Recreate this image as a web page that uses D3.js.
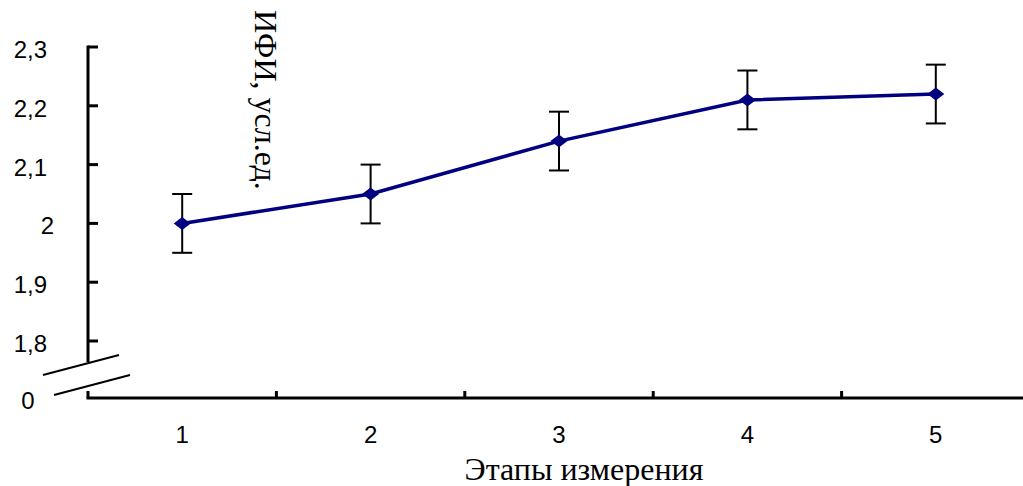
<!DOCTYPE html>
<html>
<head>
<meta charset="utf-8">
<script src="https://cdn.jsdelivr.net/npm/d3@7"></script>
<style>
  body { margin: 0; background: #fff; }
  svg { display: block; }
  .num { font-family: "Liberation Sans", Arial, sans-serif; font-size: 24px; fill: #000; }
  .ttl { font-family: "Liberation Serif", "Times New Roman", serif; font-size: 32px; fill: #000; }
</style>
</head>
<body>
<svg width="1023" height="486"></svg>
<script>
var stages = [1, 2, 3, 4, 5];
var values = [2.0, 2.05, 2.14, 2.21, 2.22];
var errors = [0.05, 0.05, 0.05, 0.05, 0.05];
var yTicks = [1.8, 1.9, 2.0, 2.1, 2.2, 2.3];
var yTickLabels = ['1,8', '1,9', '2', '2,1', '2,2', '2,3'];
var xTitle = 'Этапы измерения';
var yTitle = 'ИФИ, усл.ед.';

var svg = d3.select('svg');
var axisY = 88;      // x position of y axis
var baseY = 398;     // y position of x axis (the "0" line)

var x = d3.scaleLinear().domain([0.5, 5.5]).range([axisY, 1030]);
var y = d3.scaleLinear().domain([1.8, 2.3]).range([341, 47]);

var points = stages.map(function(s, i){
  return { s: s, v: values[i], e: errors[i] };
});

// y axis (upper broken part)
svg.append('line')
  .attr('x1', axisY).attr('x2', axisY)
  .attr('y1', y(2.3) - 1.5).attr('y2', 362)
  .attr('stroke', '#000').attr('stroke-width', 3);

svg.selectAll('.ytick')
  .data(yTicks)
  .enter().append('line')
  .attr('x1', axisY).attr('x2', axisY + 10)
  .attr('y1', function(d){ return y(d); })
  .attr('y2', function(d){ return y(d); })
  .attr('stroke', '#000').attr('stroke-width', 3);

svg.selectAll('.ylab')
  .data(yTicks)
  .enter().append('text')
  .attr('class', 'num')
  .attr('text-anchor', 'end')
  .attr('x', function(d, i){ return yTickLabels[i].indexOf(',') < 0 ? 54 : 47; })
  .attr('y', function(d){ return y(d) + 11; })
  .text(function(d, i){ return yTickLabels[i]; });

// "0" label for the x-axis level
svg.append('text').attr('class', 'num')
  .attr('text-anchor', 'middle')
  .attr('x', 28).attr('y', baseY + 11)
  .text('0');

// axis break marks
svg.append('line').attr('x1', 43).attr('y1', 375).attr('x2', 119).attr('y2', 355)
  .attr('stroke', '#000').attr('stroke-width', 2);
svg.append('line').attr('x1', 54).attr('y1', 395).attr('x2', 130).attr('y2', 375)
  .attr('stroke', '#000').attr('stroke-width', 2);

// x axis
svg.append('line')
  .attr('x1', axisY - 1.5).attr('x2', 1023)
  .attr('y1', baseY).attr('y2', baseY)
  .attr('stroke', '#000').attr('stroke-width', 3);

var bounds = d3.range(0, stages.length + 1).map(function(i){ return 0.5 + i; });
svg.selectAll('.xtick')
  .data(bounds)
  .enter().append('line')
  .attr('x1', function(d){ return x(d); })
  .attr('x2', function(d){ return x(d); })
  .attr('y1', baseY).attr('y2', baseY - 7)
  .attr('stroke', '#000').attr('stroke-width', 3);

svg.selectAll('.xlab')
  .data(stages)
  .enter().append('text')
  .attr('class', 'num')
  .attr('text-anchor', 'middle')
  .attr('x', function(d){ return x(d); })
  .attr('y', 443)
  .text(function(d){ return d; });

// titles
svg.append('text').attr('class', 'ttl')
  .attr('text-anchor', 'middle')
  .attr('x', 584).attr('y', 480)
  .text(xTitle);

svg.append('text').attr('class', 'ttl')
  .attr('transform', 'translate(255,10) rotate(90)')
  .text(yTitle);

// error bars
var eb = svg.selectAll('.err').data(points).enter().append('g');
eb.append('line')
  .attr('x1', function(d){ return x(d.s); })
  .attr('x2', function(d){ return x(d.s); })
  .attr('y1', function(d){ return y(d.v + d.e); })
  .attr('y2', function(d){ return y(d.v - d.e); })
  .attr('stroke', '#000').attr('stroke-width', 2);
[1, -1].forEach(function(sign){
  eb.append('line')
    .attr('x1', function(d){ return x(d.s) - 10; })
    .attr('x2', function(d){ return x(d.s) + 10; })
    .attr('y1', function(d){ return y(d.v + sign * d.e); })
    .attr('y2', function(d){ return y(d.v + sign * d.e); })
    .attr('stroke', '#000').attr('stroke-width', 2);
});

// line
var line = d3.line()
  .x(function(d){ return x(d.s); })
  .y(function(d){ return y(d.v); });

svg.append('path')
  .datum(points)
  .attr('d', line)
  .attr('fill', 'none')
  .attr('stroke', '#000080')
  .attr('stroke-width', 3.5);

// diamond markers
svg.selectAll('.mark')
  .data(points)
  .enter().append('path')
  .attr('transform', function(d){ return 'translate(' + x(d.s) + ',' + y(d.v) + ')'; })
  .attr('d', 'M-8.5,0L0,-6.5L8.5,0L0,6.5Z')
  .attr('fill', '#000080');
</script>
</body>
</html>
